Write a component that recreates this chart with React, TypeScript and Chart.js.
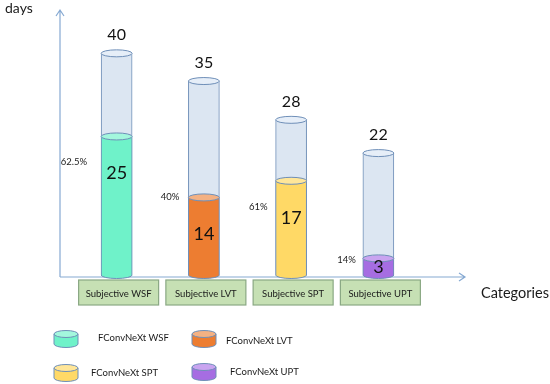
import React, { useEffect, useRef } from "react";
import { Chart, registerables } from "chart.js";

Chart.register(...registerables);

const categories = ["Subjective WSF", "Subjective LVT", "Subjective SPT", "Subjective UPT"];
const totalDays = [40, 35, 28, 22];
const fconvDays = [25, 14, 17, 3];
const percentLabels = ["62.5%", "40%", "61%", "14%"];
const legendLabels = ["FConvNeXt WSF", "FConvNeXt LVT", "FConvNeXt SPT", "FConvNeXt UPT"];
const fillColors = ["#6ff2c9", "#ed7d31", "#ffd966", "#a66de2"];
const capColors = ["#a3f7dd", "#f4b183", "#ffe699", "#c9a4f0"];
const yAxisTitle = "days";
const xAxisTitle = "Categories";

const FONT = "Lato, 'Liberation Sans', sans-serif";
const STROKE = "#6f8fb8";
const AXIS = "#86a9d2";
const TOTAL_FILL = "#dce6f2";
const TOTAL_CAP = "#e6eef8";

const layoutOpts = {
  pctOffsetY: [25, 0, 26, 2],
  pctGap: [14, 9, 8, 7],
  legendPos: [
    { ix: 66, iy: 339, tx: 98, ty: 338 },
    { ix: 204, iy: 339, tx: 226, ty: 341 },
    { ix: 66, iy: 373, tx: 91, ty: 373 },
    { ix: 204, iy: 372, tx: 230, ty: 372 },
  ],
};

function drawCylinderIcon(ctx: CanvasRenderingContext2D, cx: number, cy: number, fill: string, cap: string) {
  const rx = 12, ry = 3.5, h = 10;
  const top = cy - h / 2;
  const bot = cy + h / 2;
  ctx.save();
  ctx.lineWidth = 1;
  ctx.strokeStyle = STROKE;
  ctx.fillStyle = fill;
  ctx.beginPath();
  ctx.moveTo(cx - rx, top);
  ctx.lineTo(cx - rx, bot);
  ctx.ellipse(cx, bot, rx, ry, 0, Math.PI, 0, true);
  ctx.lineTo(cx + rx, top);
  ctx.closePath();
  ctx.fill();
  ctx.beginPath();
  ctx.moveTo(cx - rx, top);
  ctx.lineTo(cx - rx, bot);
  ctx.ellipse(cx, bot, rx, ry, 0, Math.PI, 0, true);
  ctx.lineTo(cx + rx, top);
  ctx.stroke();
  ctx.beginPath();
  ctx.ellipse(cx, top, rx, ry, 0, 0, Math.PI * 2);
  ctx.fillStyle = cap;
  ctx.fill();
  ctx.stroke();
  ctx.restore();
}

const cylinderPlugin = {
  id: "cylinders",
  afterDatasetsDraw(chart: any) {
    const ctx: CanvasRenderingContext2D = chart.ctx;
    const area = chart.chartArea;
    const fillMeta = chart.getDatasetMeta(0);
    const totMeta = chart.getDatasetMeta(1);
    const ry = 3.5;

    // axes with arrows
    const axX = area.left - 13;
    const axY = area.bottom + 2;
    ctx.save();
    ctx.strokeStyle = AXIS;
    ctx.lineWidth = 1.2;
    ctx.beginPath();
    ctx.moveTo(axX, axY);
    ctx.lineTo(axX, area.top + 1);
    ctx.moveTo(axX - 4, area.top + 7);
    ctx.lineTo(axX, area.top + 1);
    ctx.lineTo(axX + 4, area.top + 7);
    ctx.moveTo(axX, axY);
    ctx.lineTo(area.right + 43, axY);
    ctx.moveTo(area.right + 37, axY - 4);
    ctx.lineTo(area.right + 43, axY);
    ctx.lineTo(area.right + 37, axY + 4);
    ctx.stroke();
    ctx.restore();

    fillMeta.data.forEach((bar: any, i: number) => {
      const { x, y, base, width } = bar.getProps(["x", "y", "base", "width"], true);
      const t = totMeta.data[i].getProps(["y"], true);
      const rx = width / 2;
      ctx.save();
      ctx.lineWidth = 1;
      ctx.strokeStyle = STROKE;
      ctx.beginPath();
      ctx.ellipse(x, base, rx, ry, 0, 0, Math.PI);
      ctx.fillStyle = fillColors[i];
      ctx.fill();
      ctx.stroke();
      ctx.beginPath();
      ctx.ellipse(x, y, rx, ry, 0, 0, Math.PI * 2);
      ctx.fillStyle = capColors[i];
      ctx.fill();
      ctx.stroke();
      ctx.beginPath();
      ctx.ellipse(x, t.y, rx, ry, 0, 0, Math.PI * 2);
      ctx.fillStyle = TOTAL_CAP;
      ctx.fill();
      ctx.stroke();

      ctx.fillStyle = "#111";
      ctx.textAlign = "center";
      ctx.textBaseline = "middle";
      ctx.font = `16px ${FONT}`;
      ctx.fillText(String(totalDays[i]), x, t.y - 18);
      ctx.font = `18px ${FONT}`;
      const mid = (y + base) / 2;
      ctx.fillText(String(fconvDays[i]), x, Math.min(mid, y + 37));
      ctx.font = `9.5px ${FONT}`;
      ctx.textAlign = "right";
      ctx.fillStyle = "#222";
      ctx.fillText(percentLabels[i], x - rx - layoutOpts.pctGap[i], y + layoutOpts.pctOffsetY[i]);

      const bw = 80, bh = 25, by = area.bottom + 5;
      ctx.fillStyle = "#c6e0b4";
      ctx.strokeStyle = "#8aa884";
      ctx.lineWidth = 1.2;
      ctx.fillRect(x + 2 - bw / 2, by, bw, bh);
      ctx.strokeRect(x + 2 - bw / 2, by, bw, bh);
      ctx.fillStyle = "#1a1a1a";
      ctx.textAlign = "center";
      ctx.font = `9.5px ${FONT}`;
      ctx.fillText(categories[i], x + 2, by + bh / 2 + 1);
      ctx.restore();
    });

    ctx.save();
    ctx.fillStyle = "#1a1a1a";
    ctx.textBaseline = "middle";
    ctx.textAlign = "left";
    ctx.font = `14px ${FONT}`;
    ctx.fillText(yAxisTitle, 5, area.top - 1);
    ctx.font = `14.5px ${FONT}`;
    ctx.fillText(xAxisTitle, area.right + 59, area.bottom + 18);

    legendLabels.forEach((lab, i) => {
      const p = layoutOpts.legendPos[i];
      drawCylinderIcon(ctx, p.ix, p.iy, fillColors[i], capColors[i]);
      ctx.fillStyle = "#1a1a1a";
      ctx.font = `9.5px ${FONT}`;
      ctx.textAlign = "left";
      ctx.textBaseline = "middle";
      ctx.fillText(lab, p.tx, p.ty);
    });
    ctx.restore();
  },
};

export default function App() {
  const ref = useRef<HTMLCanvasElement | null>(null);
  useEffect(() => {
    if (!ref.current) return;
    const chart = new Chart(ref.current, {
      type: "bar",
      data: {
        labels: categories,
        datasets: [
          {
            label: "FConvNeXt",
            data: fconvDays,
            backgroundColor: fillColors,
            borderColor: STROKE,
            borderWidth: { left: 1, right: 1, top: 0, bottom: 0 } as any,
            borderSkipped: false,
            grouped: false,
            barThickness: 31,
          } as any,
          {
            label: "Total",
            data: totalDays,
            backgroundColor: TOTAL_FILL,
            borderColor: STROKE,
            borderWidth: { left: 1, right: 1, top: 0, bottom: 0 } as any,
            borderSkipped: false,
            grouped: false,
            barThickness: 31,
          } as any,
        ],
      },
      options: {
        responsive: false,
        animation: false,
        devicePixelRatio: 1,
        layout: { padding: { left: 73, right: 128, top: 9, bottom: 109 } },
        scales: {
          x: { type: "category", display: false, offset: true, grid: { display: false } },
          y: { type: "linear", display: false, min: 0, max: 48, grid: { display: false } },
        },
        plugins: { legend: { display: false }, tooltip: { enabled: false } },
      },
      plugins: [cylinderPlugin],
    });
    return () => chart.destroy();
  }, []);
  return (
    <div style={{ position: "fixed", left: 0, top: 0, width: 550, height: 384, background: "#fff" }}>
      <canvas ref={ref} width={550} height={384} style={{ width: 550, height: 384, display: "block" }} />
    </div>
  );
}
